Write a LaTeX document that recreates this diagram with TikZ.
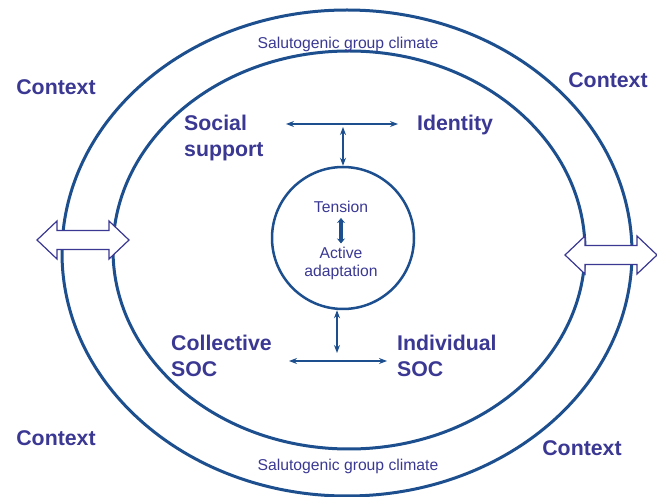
\documentclass[tikz,border=0pt]{standalone}
\usepackage{fontspec}
\setmainfont{Liberation Sans}
\usepackage{tikz}
\usetikzlibrary{arrows.meta}
\definecolor{ringblue}{HTML}{1D4F8F}
\definecolor{textblue}{HTML}{3A3893}

\begin{document}
\begin{tikzpicture}[x=1pt,y=-1pt,
    ring/.style={draw=ringblue, line width=3pt},
    bold/.style={text=textblue, font=\fontsize{21.3}{26}\selectfont\bfseries, align=left, inner sep=0pt},
    small/.style={text=textblue, font=\fontsize{15.7}{18}\selectfont, align=center, inner sep=0pt},
    link/.style={draw=ringblue, line width=1.3pt, {Stealth[length=8pt,width=6pt]}-{Stealth[length=8pt,width=6pt]}}]

    \useasboundingbox (0,0) rectangle (657,497);

    % the two rings
    \draw[ring] (347,253) ellipse [x radius=285, y radius=243];
    \draw[ring] (349,250) ellipse [x radius=236, y radius=199];

    % hollow arrows across the rings
    \foreach \cx/\cy in {83/240, 611/255}
        \draw[draw=textblue, line width=1.2pt, fill=white, shift={(\cx,\cy)}]
            (-46,0) -- (-26,-19) -- (-26,-9.5) -- (26,-9.5) -- (26,-19) -- (46,0)
            -- (26,19) -- (26,9.5) -- (-26,9.5) -- (-26,19) -- cycle;

    % centre
    \node[draw=ringblue, line width=2.5pt, circle, minimum size=142pt, inner sep=0pt] (core) at (343,238) {};
    \node[small] (tension) at (341,207) {Tension};
    \node[small] (adapt) at (341,263) {Active\\adaptation};
    \draw[draw=ringblue, line width=3.5pt, {Stealth[length=5pt,width=8pt]}-{Stealth[length=5pt,width=8pt]},
        shorten <=5pt, shorten >=3pt] (tension) -- (adapt);

    % labels inside the inner ring
    \node[bold, anchor=west] (social) at (184,138) {Social\\support};
    \node[bold, anchor=west] (identity) at (417,125) {Identity};
    \node[bold, anchor=west] (collective) at (171,356) {Collective\\SOC};
    \node[bold, anchor=west] (individual) at (397,356) {Individual\\SOC};

    % connectors
    \coordinate (tl) at (286,124);
    \coordinate (tr) at (398,124);
    \coordinate (tm) at (343,127);
    \coordinate (bl) at (289,361);
    \coordinate (br) at (387,361);
    \coordinate (bm) at (337,353);
    \draw[link] (tl) -- (tr);
    \draw[link] (tm) -- (core.north);
    \draw[link] (bl) -- (br);
    \draw[link] (bm) -- (bm |- core.south);

    % group climate and context
    \node[small] (climtop) at (348,44) {Salutogenic group climate};
    \node[small] (climbot) at (348,466) {Salutogenic group climate};
    \foreach \x/\y/\tag in {56/87/ctxa, 608/80/ctxb, 56/438/ctxc, 582/448/ctxd}
        \node[bold] (\tag) at (\x,\y) {Context};

\end{tikzpicture}
\end{document}
